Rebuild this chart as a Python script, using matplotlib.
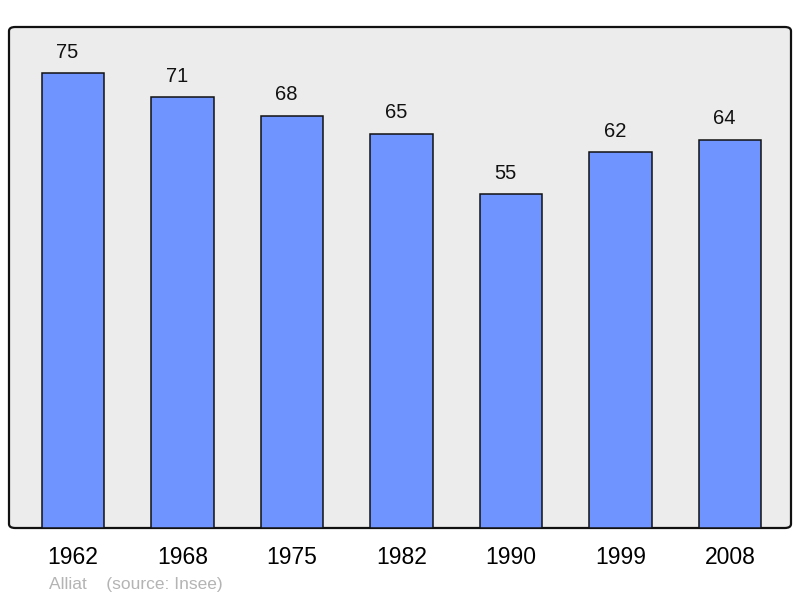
import matplotlib
matplotlib.use('Agg')
import matplotlib.pyplot as plt
from matplotlib.patches import FancyBboxPatch

years = ['1962', '1968', '1975', '1982', '1990', '1999', '2008']
population = [75, 71, 68, 65, 55, 62, 64]

BG = '#ececec'
BAR = '#7094ff'

plt.rcParams['font.family'] = ['Liberation Sans', 'DejaVu Sans']

fig = plt.figure(figsize=(8, 5.98), dpi=100)
ax = fig.add_axes([0.01125, 0.11706, 0.9775, 0.83779])
ax.set_facecolor('none')

# rounded frame behind the bars
frame = FancyBboxPatch((0, 0), 1, 1, boxstyle='round,pad=0,rounding_size=0.008',
                       transform=ax.transAxes, facecolor=BG, edgecolor='#111111',
                       linewidth=1.6, zorder=0, clip_on=False)
ax.add_patch(frame)

x = range(len(years))
ax.bar(x, population, width=0.57, color=BAR, edgecolor='#111111', linewidth=1.1, zorder=2)

for xi, v in zip(x, population):
    ax.annotate(str(v), (xi, v), xytext=(-4, 15), textcoords='offset points',
                ha='center', va='center', fontsize=14.5, color='#111111')

ax.set_xlim(-0.584, 6.557)
ax.set_ylim(0, 82.6)
ax.set_xticks(list(x))
ax.set_xticklabels(years, fontsize=16.5)
ax.tick_params(axis='x', length=0, pad=13)
ax.set_yticks([])
for s in ax.spines.values():
    s.set_visible(False)

fig.text(49 / 800, 1 - 585 / 598, 'Alliat    (source: Insee)', fontsize=12.5,
         color='#b4b4b4', ha='left', va='center')

fig.savefig('out.png', dpi=100, facecolor='white')
